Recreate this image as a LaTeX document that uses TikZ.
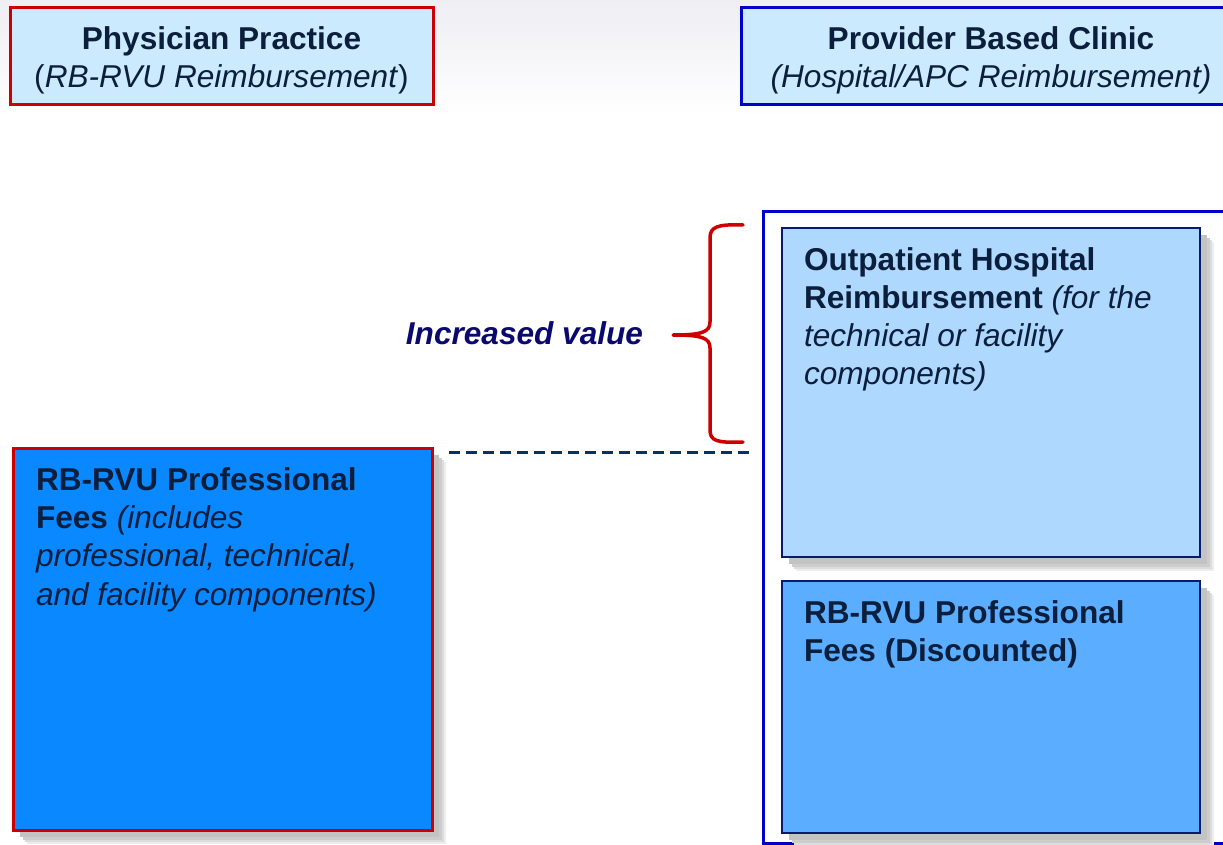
\documentclass[tikz,border=0pt]{standalone}
\usepackage{fontspec}
\setmainfont{Liberation Sans}
\usetikzlibrary{shadows}
\definecolor{cred}{HTML}{CC0000}
\definecolor{cblue}{HTML}{0000CC}
\definecolor{hdrfill}{HTML}{CCEAFD}
\definecolor{bigfill}{HTML}{0A88FF}
\definecolor{topfill}{HTML}{AFD8FF}
\definecolor{botfill}{HTML}{5BADFF}
\definecolor{navy}{HTML}{0A0A6E}
\definecolor{innerb}{HTML}{0A1A6E}
\definecolor{txt}{HTML}{0B1E3C}
\definecolor{dashc}{HTML}{003366}
\definecolor{topbg}{HTML}{EEEEF3}
\definecolor{sh1}{HTML}{EDEDED}
\definecolor{sh2}{HTML}{DCDCDC}
\definecolor{sh3}{HTML}{CDCDCD}
\definecolor{sh4}{HTML}{C3C3C3}
\begin{document}
\begin{tikzpicture}[x=1pt,y=-1pt,
  every node/.style={inner sep=0pt, outer sep=0pt, text=txt, font=\fontsize{31.6}{38}\selectfont},
  softshadow/.style={
    drop shadow={shadow xshift=14pt, shadow yshift=-14pt, fill=sh1, opacity=1},
    drop shadow={shadow xshift=12pt, shadow yshift=-12pt, fill=sh2, opacity=1},
    drop shadow={shadow xshift=10pt, shadow yshift=-10pt, fill=sh3, opacity=1},
    drop shadow={shadow xshift=7pt, shadow yshift=-7pt, fill=sh4, opacity=1}},
  hdrred/.style={draw=cred, line width=3pt, fill=hdrfill, anchor=north west},
  hdrblue/.style={draw=cblue, line width=3pt, fill=hdrfill, anchor=north west},
  bigbox/.style={draw=cred, line width=3pt, fill=bigfill, anchor=north west, softshadow},
  outerbox/.style={draw=cblue, line width=3pt, fill=white, anchor=north west},
  innerbox/.style={draw=innerb, line width=2pt, anchor=north west, softshadow},
  linetxt/.style={anchor=base west},
  ctrtxt/.style={anchor=base},
  bracestyle/.style={draw=cred, line width=3.5pt, line cap=round, line join=round},
  dashline/.style={draw=dashc, line width=3pt, dash pattern=on 11pt off 6pt}
]
\useasboundingbox (0,0) rectangle (1223,845);
\clip (0,0) rectangle (1223,845);
\shade[top color=topbg, bottom color=white] (0,0) rectangle (1223,115);

% headers
\node[hdrred, minimum width=423pt, minimum height=97pt] (hl) at (10,8) {};
\node[ctrtxt] (hl1) at (221.5,50) {\bfseries Physician Practice};
\node[ctrtxt] (hl2) at (221.5,87.5) {(\textit{RB-RVU Reimbursement})};

\node[hdrblue, minimum width=500pt, minimum height=97pt] (hr) at (741,8) {};
\node[ctrtxt] (hr1) at (991,50) {\bfseries Provider Based Clinic};
\node[ctrtxt] (hr2) at (991,87.5) {\itshape (Hospital/APC Reimbursement)};

% right outer box
\node[outerbox, minimum width=480pt, minimum height=631pt] (outer) at (763,212) {};

% inner boxes
\node[innerbox, fill=topfill, minimum width=418pt, minimum height=329pt] (opbox) at (782,228) {};
\node[linetxt] (op1) at (804,270) {\bfseries Outpatient Hospital};
\node[linetxt] (op2) at (804,308) {\textbf{Reimbursement} \textit{(for the}};
\node[linetxt] (op3) at (804,346) {\itshape technical or facility};
\node[linetxt] (op4) at (804,384) {\itshape components)};

\node[innerbox, fill=botfill, minimum width=418pt, minimum height=252pt] (rbbox) at (782,581) {};
\node[linetxt] (rb1) at (804,623) {\bfseries RB-RVU Professional};
\node[linetxt] (rb2) at (804,661) {\bfseries Fees (Discounted)};

% left big box
\node[bigbox, minimum width=419pt, minimum height=382pt] (big) at (13,448) {};
\node[linetxt] (bg1) at (36,490) {\bfseries RB-RVU Professional};
\node[linetxt] (bg2) at (36,528) {\textbf{Fees} \textit{(includes}};
\node[linetxt] (bg3) at (36,566.5) {\itshape professional, technical,};
\node[linetxt] (bg4) at (36,605) {\itshape and facility components)};

% dashed level line
\coordinate (d1) at (449,452);
\coordinate (d2) at (outer.west |- 0,452);
\draw[dashline] (d1) -- ([xshift=-9pt]d2);

% brace
\draw[bracestyle] (743,225) .. controls (717,224) and (710,227) .. (710,238)
  -- (710,322) .. controls (710,332) and (702,335) .. (673,335)
  .. controls (702,335) and (710,338) .. (710,348)
  -- (710,430) .. controls (710,441) and (717,443) .. (743,442);

% label
\node[ctrtxt, text=navy] (inc) at (524.5,344) {\bfseries\itshape Increased value};
\end{tikzpicture}
\end{document}
